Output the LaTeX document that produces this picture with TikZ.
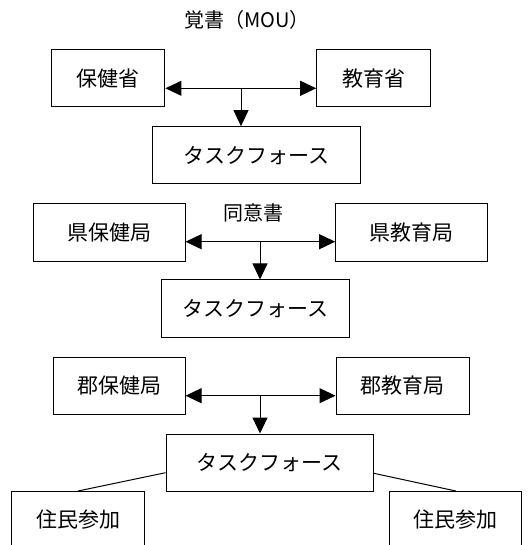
\documentclass[tikz,border=0pt]{standalone}
\usepackage{fontspec}
\newfontfamily\cjk{Noto Sans CJK JP}
\usetikzlibrary{arrows.meta}
\tikzset{
  box/.style={draw, line width=1pt, inner sep=0pt, font=\cjk\fontsize{21}{25}\selectfont},
  conn/.style={line width=1pt},
  tip/.style={-{Triangle[length=16pt,width=15pt]}},
  tips/.style={{Triangle[length=16pt,width=15pt]}-{Triangle[length=16pt,width=15pt]}},
  lbl/.style={inner sep=0pt, font=\cjk\fontsize{20}{24}\selectfont}
}
\begin{document}
\begin{tikzpicture}[x=1pt,y=-1pt]
\useasboundingbox (0,0) rectangle (531,545);
\clip (0,0) rectangle (531,545);
% title labels
\node[lbl] (t1) at (247,20) {覚書（MOU）};
\node[lbl] (t2) at (253,213) {同意書};
% row 1
\node[box, minimum width=113.3pt, minimum height=57pt] (hm) at (108.3,78.5) {保健省};
\node[box, minimum width=114pt, minimum height=57pt] (em) at (373.7,78.5) {教育省};
\node[box, minimum width=207.7pt, minimum height=57.3pt] (tf1) at (256.2,155.3) {タスクフォース};
% row 2
\node[box, minimum width=151.7pt, minimum height=57.7pt] (ph) at (109.2,232.2) {県保健局};
\node[box, minimum width=151.6pt, minimum height=57.7pt] (pe) at (411.5,232.2) {県教育局};
\node[box, minimum width=188.3pt, minimum height=57.7pt] (tf2) at (255.8,308.8) {タスクフォース};
% row 3
\node[box, minimum width=131.7pt, minimum height=57pt] (dh) at (119.2,385.8) {郡保健局};
\node[box, minimum width=133pt, minimum height=57pt] (de) at (402.5,385.8) {郡教育局};
\node[box, minimum width=207.3pt, minimum height=57pt] (tf3) at (269.7,462.5) {タスクフォース};
% residents
\node[box, minimum width=132.6pt, minimum height=57pt] (rl) at (78,519.5) {住民参加};
\node[box, minimum width=131.7pt, minimum height=57pt] (rr) at (455.8,519.5) {住民参加};
% connectors
\coordinate (j1) at (241,88.3);
\coordinate (j2) at (260,241.7);
\coordinate (j3) at (260,395.7);
\draw[conn, tips] (hm.east |- j1) -- (em.west |- j1);
\draw[conn, tip] (j1) -- (j1 |- tf1.north);
\draw[conn, tips] (ph.east |- j2) -- (pe.west |- j2);
\draw[conn, tip] (j2) -- (j2 |- tf2.north);
\draw[conn, tips] (dh.east |- j3) -- (de.west |- j3);
\draw[conn, tip] (j3) -- (j3 |- tf3.north);
\coordinate (l1) at (166,472.7);
\coordinate (l2) at (130,491);
\coordinate (r1) at (373.3,473.3);
\coordinate (r2) at (410,491);
\draw[conn] (tf3.west |- l1) -- (l2 -| rl.north);
\draw[conn] (tf3.east |- r1) -- (r2 -| rr.north);
\end{tikzpicture}
\end{document}
